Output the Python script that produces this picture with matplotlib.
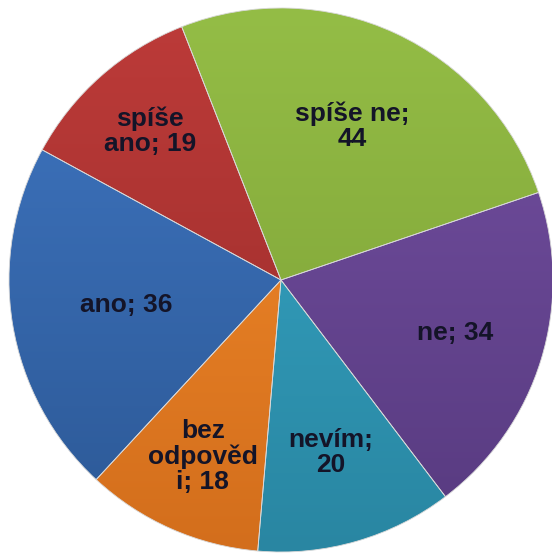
import numpy as np
import matplotlib
matplotlib.use("Agg")
import matplotlib.pyplot as plt
from matplotlib.colors import LinearSegmentedColormap

# Data
categories = ["ano", "spíše ano", "spíše ne", "ne", "nevím", "bez odpovědi"]
values = [36, 19, 44, 34, 20, 18]
label_texts = ["ano; 36", "spíše\nano; 19", "spíše ne;\n44", "ne; 34", "nevím;\n20", "bez\nodpověd\ni; 18"]

# Styles (top / bottom colour of vertical gradient)
top_colors = ["#3f76c2", "#bd3b39", "#94bd46", "#7450a2", "#37a9c8", "#f58d2c"]
bot_colors = ["#2c5895", "#962b29", "#7a9d34", "#573a7f", "#2986a2", "#d36e1c"]
label_radius = [0.575, 0.73, 0.625, 0.67, 0.66, 0.71]

W, H = 552, 556
fig = plt.figure(figsize=(W / 100, H / 100), dpi=100)
ax = fig.add_axes([0, 0, 1, 1])

cx, cy, R = 281, 280, 272  # pixel centre (from top-left) and radius
wedges, _ = ax.pie(values, startangle=227.2, counterclock=False,
                   radius=1.0, center=(0, 0),
                   wedgeprops=dict(linewidth=0.6, edgecolor="#d8d8d8"))

for w, tc, bc in zip(wedges, top_colors, bot_colors):
    w.set_facecolor("none")
    cmap = LinearSegmentedColormap.from_list("g", [tc, bc])
    grad = np.linspace(0, 1, 256).reshape(-1, 1)
    im = ax.imshow(grad, cmap=cmap, extent=(-1, 1, -1, 1), origin="upper",
                   aspect="auto", zorder=0.5)
    im.set_clip_path(w)

for w, txt, rf in zip(wedges, label_texts, label_radius):
    mid = np.deg2rad((w.theta1 + w.theta2) / 2)
    ax.text(rf * np.cos(mid), rf * np.sin(mid), txt, ha="center", va="center",
            fontsize=19, fontweight="bold", family=["Liberation Sans", "DejaVu Sans"],
            color="#141428", linespacing=1.05, zorder=3)

ax.set_xlim(-cx / R, (W - cx) / R)
ax.set_ylim(-(H - cy) / R, cy / R)
ax.set_aspect("auto")
ax.axis("off")
fig.savefig("out.png", dpi=100, facecolor="white")
